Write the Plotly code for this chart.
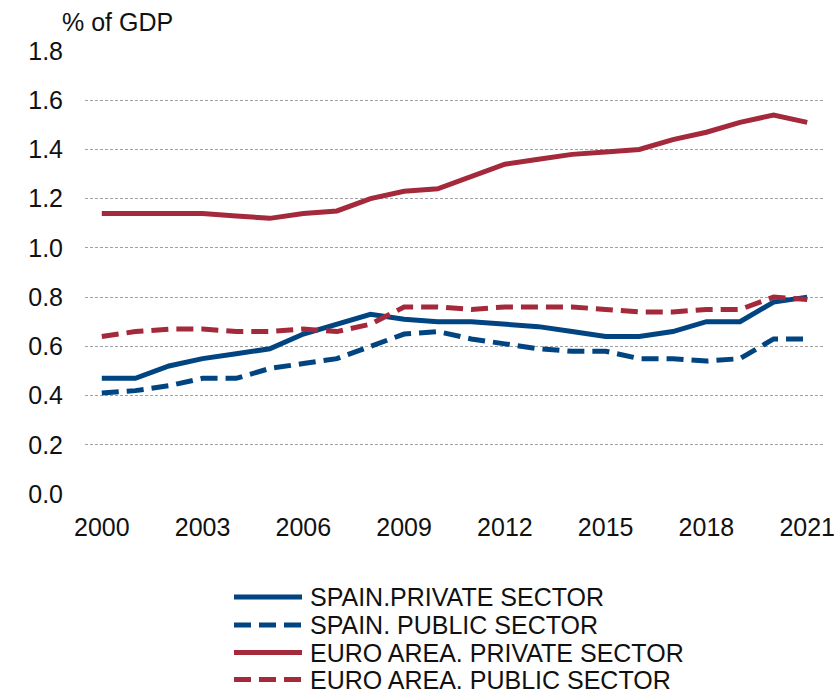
import plotly.graph_objects as go

# Annual R&D expenditure, % of GDP
years = list(range(2000, 2022))

spain_private = [0.47, 0.47, 0.52, 0.55, 0.57, 0.59, 0.65, 0.69, 0.73, 0.71, 0.70,
                 0.70, 0.69, 0.68, 0.66, 0.64, 0.64, 0.66, 0.70, 0.70, 0.78, 0.80]
spain_public = [0.41, 0.42, 0.44, 0.47, 0.47, 0.51, 0.53, 0.55, 0.60, 0.65, 0.66,
                0.63, 0.61, 0.59, 0.58, 0.58, 0.55, 0.55, 0.54, 0.55, 0.63, 0.63]
euro_private = [1.14, 1.14, 1.14, 1.14, 1.13, 1.12, 1.14, 1.15, 1.20, 1.23, 1.24,
                1.29, 1.34, 1.36, 1.38, 1.39, 1.40, 1.44, 1.47, 1.51, 1.54, 1.51]
euro_public = [0.64, 0.66, 0.67, 0.67, 0.66, 0.66, 0.67, 0.66, 0.69, 0.76, 0.76,
               0.75, 0.76, 0.76, 0.76, 0.75, 0.74, 0.74, 0.75, 0.75, 0.80, 0.79]

series_names = ["SPAIN.PRIVATE SECTOR", "SPAIN. PUBLIC SECTOR",
                "EURO AREA. PRIVATE SECTOR", "EURO AREA. PUBLIC SECTOR"]

x_ticks = [2000, 2003, 2006, 2009, 2012, 2015, 2018, 2021]
y_ticks = [0.0, 0.2, 0.4, 0.6, 0.8, 1.0, 1.2, 1.4, 1.6, 1.8]

BLUE = "#004482"
RED = "#A3293B"
DASH = "17px,8px"
FONT = "Liberation Sans, Arial, sans-serif"
TEXT = "#111111"

styles = [(BLUE, "solid"), (BLUE, DASH), (RED, "solid"), (RED, DASH)]
all_series = [spain_private, spain_public, euro_private, euro_public]

fig = go.Figure()
for name, vals, (color, dash) in zip(series_names, all_series, styles):
    fig.add_trace(go.Scatter(
        x=years, y=vals, mode="lines", name=name,
        line=dict(color=color, width=5, dash=dash),
    ))

# Plot-area geometry in pixels, used to place the key below the chart
W, H = 839, 695
L, R, T, B = 85, 15, 51, 201
pw, ph = W - L - R, H - T - B


def px_x(p):
    return (p - L) / pw


def px_y(p):
    return (H - B - p) / ph


shapes = []
annotations = [dict(
    text="% of GDP", xref="paper", yref="paper", x=px_x(60), y=px_y(22),
    xanchor="left", yanchor="middle", showarrow=False,
    font=dict(size=25, color=TEXT),
)]
row_y = [597, 625, 652.5, 679.5]
for name, (color, dash), ry in zip(series_names, styles, row_y):
    shapes.append(dict(
        type="line", xref="paper", yref="paper",
        x0=px_x(234), x1=px_x(302), y0=px_y(ry), y1=px_y(ry),
        line=dict(color=color, width=5, dash=dash),
    ))
    annotations.append(dict(
        text=name, xref="paper", yref="paper", x=px_x(309), y=px_y(ry),
        xanchor="left", yanchor="middle", showarrow=False, borderpad=0,
        font=dict(size=25, color=TEXT),
    ))

fig.update_layout(
    width=W, height=H,
    margin=dict(l=L, r=R, t=T, b=B, autoexpand=False),
    paper_bgcolor="white", plot_bgcolor="white",
    font=dict(family=FONT, size=25, color=TEXT),
    showlegend=False,
    xaxis=dict(
        range=[1999.5, 2021.5], tickmode="array", tickvals=x_ticks,
        ticktext=[str(v) for v in x_ticks],
        showgrid=False, zeroline=False, showline=False, ticks="",
        ticklabelstandoff=16,
    ),
    yaxis=dict(
        range=[0, 1.8], tickmode="array", tickvals=y_ticks,
        ticktext=[f"{v:.1f}" for v in y_ticks],
        showgrid=True, gridcolor="#a0a0a0", gridwidth=1, griddash="3px,2px",
        zeroline=False, showline=False, ticks="",
        ticklabelstandoff=21,
    ),
    shapes=shapes,
    annotations=annotations,
)

fig.write_html("out.html")
